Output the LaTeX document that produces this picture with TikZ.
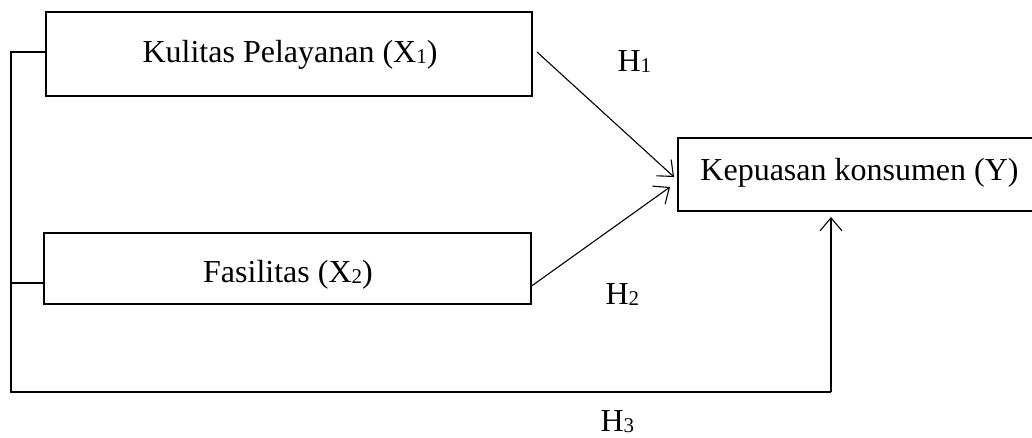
\documentclass[tikz,border=0pt]{standalone}
\usepackage{fontspec}
\setmainfont{Liberation Serif}
\usetikzlibrary{arrows.meta}
\newcommand{\sbs}[1]{\raisebox{-1.5pt}{\fontsize{21}{21}\selectfont #1}}
\begin{document}
\begin{tikzpicture}[x=1pt,y=-1pt,
  line width=1.1pt,
  varbox/.style={draw,rectangle,inner sep=0pt},
  lbl/.style={font=\fontsize{32}{36}\selectfont,inner sep=0pt,anchor=base},
  hyp/.style={lbl,anchor=base west},
  link/.style={-{Straight Barb[length=13pt,width=22pt,line width=1.1pt]}}]
  \useasboundingbox (0,0) rectangle (1032,437);
  % variable boxes
  \node[varbox,minimum width=486pt,minimum height=84pt] (x1) at (289,54) {};
  \node[lbl] (x1t) at (290,62) {Kulitas Pelayanan (X\sbs{1})};
  \node[varbox,minimum width=487pt,minimum height=71pt] (x2) at (287.5,268.5) {};
  \node[lbl] (x2t) at (288,282) {Fasilitas (X\sbs{2})};
  \node[varbox,minimum width=362pt,minimum height=73pt] (y) at (859,174.5) {};
  \node[lbl] (yt) at (859.5,180) {Kepuasan konsumen (Y)};
  % hypothesis labels
  \node[hyp] (h1) at (617,71) {H\sbs{1}};
  \node[hyp] (h2) at (605,304) {H\sbs{2}};
  \node[hyp] (h3) at (600,431) {H\sbs{3}};
  % direct paths
  \coordinate (a1s) at (537,52);
  \coordinate (a1e) at (674,177);
  \coordinate (a2e) at (670,187);
  \draw[link] (a1s) -- (a1e);
  \draw[link] (x2.east |- 0,286) -- (a2e);
  % joint path along the left and bottom
  \coordinate (j1) at (11,52);
  \coordinate (j2) at (11,283);
  \coordinate (jb) at (11,392);
  \coordinate (jr) at (831,392);
  \coordinate (a3e) at (831,217);
  \draw (x1.west |- j1) -- (j1) -- (jb) -- (jr);
  \draw[link] (jr) -- (a3e);
  \draw (x2.west |- j2) -- (j2);
\end{tikzpicture}
\end{document}
